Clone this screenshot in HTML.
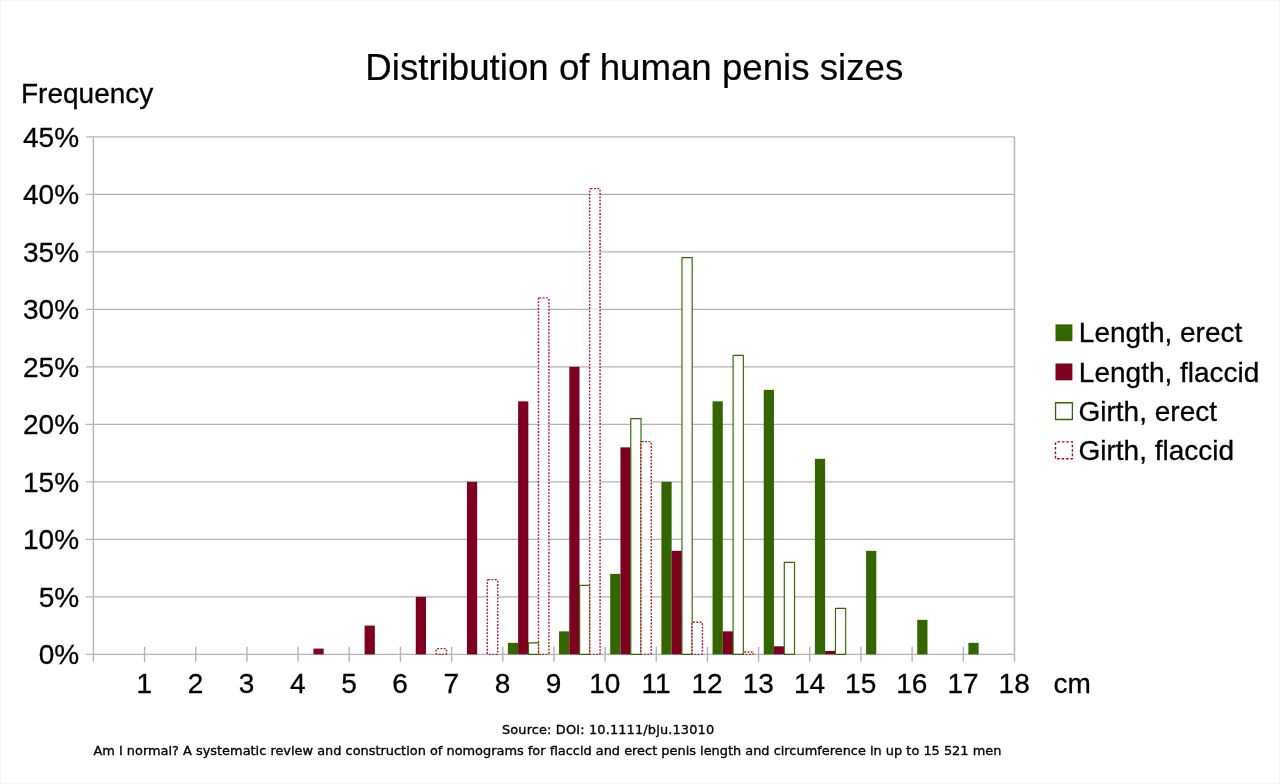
<!DOCTYPE html>
<html lang="en"><head><meta charset="utf-8"><title>Distribution of human penis sizes</title>
<style>html,body{margin:0;padding:0;background:#fff;}svg{display:block;}text{font-family:"Liberation Sans",sans-serif;fill:#000;}.ax{font-size:28px;stroke:#000;stroke-width:0.3px;}.t{font-size:36.66px;stroke:#000;stroke-width:0.2px;}.s{font-family:"DejaVu Sans","Liberation Sans",sans-serif;font-size:12.91px;stroke:#000;stroke-width:0.35px;}</style></head><body>
<svg width="1280" height="784" viewBox="0 0 1280 784">
<rect x="0" y="0" width="1280" height="784" fill="#fff"/>
<rect x="0.5" y="0.5" width="1279" height="783" fill="none" stroke="#f6f6f6" stroke-width="1"/>
<g stroke="#b3b3b3" stroke-width="1.4" fill="none">
<line x1="85.9" y1="654.35" x2="1014.46" y2="654.35"/>
<line x1="85.9" y1="596.85" x2="1014.46" y2="596.85"/>
<line x1="85.9" y1="539.35" x2="1014.46" y2="539.35"/>
<line x1="85.9" y1="481.85" x2="1014.46" y2="481.85"/>
<line x1="85.9" y1="424.35" x2="1014.46" y2="424.35"/>
<line x1="85.9" y1="366.85" x2="1014.46" y2="366.85"/>
<line x1="85.9" y1="309.35" x2="1014.46" y2="309.35"/>
<line x1="85.9" y1="251.85" x2="1014.46" y2="251.85"/>
<line x1="85.9" y1="194.35" x2="1014.46" y2="194.35"/>
<line x1="85.9" y1="136.85" x2="1014.46" y2="136.85"/>
<line x1="93.4" y1="136.85" x2="93.4" y2="661.85"/>
<line x1="1014.46" y1="136.85" x2="1014.46" y2="661.85"/>
<line x1="144.57" y1="646.85" x2="144.57" y2="661.85"/>
<line x1="195.74" y1="646.85" x2="195.74" y2="661.85"/>
<line x1="246.91" y1="646.85" x2="246.91" y2="661.85"/>
<line x1="298.08" y1="646.85" x2="298.08" y2="661.85"/>
<line x1="349.25" y1="646.85" x2="349.25" y2="661.85"/>
<line x1="400.42" y1="646.85" x2="400.42" y2="661.85"/>
<line x1="451.59" y1="646.85" x2="451.59" y2="661.85"/>
<line x1="502.76" y1="646.85" x2="502.76" y2="661.85"/>
<line x1="553.93" y1="646.85" x2="553.93" y2="661.85"/>
<line x1="605.1" y1="646.85" x2="605.1" y2="661.85"/>
<line x1="656.27" y1="646.85" x2="656.27" y2="661.85"/>
<line x1="707.44" y1="646.85" x2="707.44" y2="661.85"/>
<line x1="758.61" y1="646.85" x2="758.61" y2="661.85"/>
<line x1="809.78" y1="646.85" x2="809.78" y2="661.85"/>
<line x1="860.95" y1="646.85" x2="860.95" y2="661.85"/>
<line x1="912.12" y1="646.85" x2="912.12" y2="661.85"/>
<line x1="963.29" y1="646.85" x2="963.29" y2="661.85"/>
</g>
<g id="bars">
<rect x="313.43" y="648.6" width="10.23" height="5.75" fill="#7e0021"/>
<rect x="364.6" y="625.6" width="10.23" height="28.75" fill="#7e0021"/>
<rect x="415.77" y="596.85" width="10.23" height="57.5" fill="#7e0021"/>
<rect x="436.14" y="648.6" width="10.43" height="5.75" rx="1" ry="1" fill="#fff" fill-opacity="0.7" stroke="#b01a25" stroke-width="1.45" stroke-dasharray="1.85 1.48" stroke-linejoin="round"/>
<rect x="466.94" y="481.85" width="10.23" height="172.5" fill="#7e0021"/>
<rect x="487.31" y="579.6" width="10.43" height="74.75" rx="1" ry="1" fill="#fff" fill-opacity="0.7" stroke="#b01a25" stroke-width="1.45" stroke-dasharray="1.85 1.48" stroke-linejoin="round"/>
<rect x="507.88" y="642.85" width="10.23" height="11.5" fill="#336600"/>
<rect x="518.11" y="401.35" width="10.23" height="253" fill="#7e0021"/>
<rect x="528.45" y="642.85" width="10.23" height="11.5" fill="#fff" stroke="#336600" stroke-width="1.15" stroke-linejoin="round"/>
<rect x="538.48" y="297.85" width="10.43" height="356.5" rx="1" ry="1" fill="#fff" fill-opacity="0.7" stroke="#b01a25" stroke-width="1.45" stroke-dasharray="1.85 1.48" stroke-linejoin="round"/>
<rect x="559.05" y="631.35" width="10.23" height="23" fill="#336600"/>
<rect x="569.28" y="366.85" width="10.23" height="287.5" fill="#7e0021"/>
<rect x="579.62" y="585.35" width="10.23" height="69" fill="#fff" stroke="#336600" stroke-width="1.15" stroke-linejoin="round"/>
<rect x="589.65" y="188.6" width="10.43" height="465.75" rx="1" ry="1" fill="#fff" fill-opacity="0.7" stroke="#b01a25" stroke-width="1.45" stroke-dasharray="1.85 1.48" stroke-linejoin="round"/>
<rect x="610.22" y="573.85" width="10.23" height="80.5" fill="#336600"/>
<rect x="620.45" y="447.35" width="10.23" height="207" fill="#7e0021"/>
<rect x="630.78" y="418.6" width="10.23" height="235.75" fill="#fff" stroke="#336600" stroke-width="1.15" stroke-linejoin="round"/>
<rect x="640.82" y="441.6" width="10.43" height="212.75" rx="1" ry="1" fill="#fff" fill-opacity="0.7" stroke="#b01a25" stroke-width="1.45" stroke-dasharray="1.85 1.48" stroke-linejoin="round"/>
<rect x="661.39" y="481.85" width="10.23" height="172.5" fill="#336600"/>
<rect x="671.62" y="550.85" width="10.23" height="103.5" fill="#7e0021"/>
<rect x="681.95" y="257.6" width="10.23" height="396.75" fill="#fff" stroke="#336600" stroke-width="1.15" stroke-linejoin="round"/>
<rect x="691.99" y="622.15" width="10.43" height="32.2" rx="1" ry="1" fill="#fff" fill-opacity="0.7" stroke="#b01a25" stroke-width="1.45" stroke-dasharray="1.85 1.48" stroke-linejoin="round"/>
<rect x="712.56" y="401.35" width="10.23" height="253" fill="#336600"/>
<rect x="722.79" y="631.35" width="10.23" height="23" fill="#7e0021"/>
<rect x="733.12" y="355.35" width="10.23" height="299" fill="#fff" stroke="#336600" stroke-width="1.15" stroke-linejoin="round"/>
<rect x="743.16" y="652.05" width="10.43" height="2.3" rx="1" ry="1" fill="#fff" fill-opacity="0.7" stroke="#b01a25" stroke-width="1.45" stroke-dasharray="1.85 1.48" stroke-linejoin="round"/>
<rect x="763.73" y="389.85" width="10.23" height="264.5" fill="#336600"/>
<rect x="773.96" y="646.3" width="10.23" height="8.05" fill="#7e0021"/>
<rect x="784.29" y="562.35" width="10.23" height="92" fill="#fff" stroke="#336600" stroke-width="1.15" stroke-linejoin="round"/>
<rect x="814.9" y="458.85" width="10.23" height="195.5" fill="#336600"/>
<rect x="825.13" y="650.9" width="10.23" height="3.45" fill="#7e0021"/>
<rect x="835.46" y="608.35" width="10.23" height="46" fill="#fff" stroke="#336600" stroke-width="1.15" stroke-linejoin="round"/>
<rect x="866.07" y="550.85" width="10.23" height="103.5" fill="#336600"/>
<rect x="917.24" y="619.85" width="10.23" height="34.5" fill="#336600"/>
<rect x="968.41" y="642.85" width="10.23" height="11.5" fill="#336600"/>
</g>
<text class="t" x="634.3" y="80" text-anchor="middle">Distribution of human penis sizes</text>
<text class="ax" x="21" y="103">Frequency</text>
<text class="ax" x="79.1" y="664.25" text-anchor="end">0%</text>
<text class="ax" x="79.1" y="606.75" text-anchor="end">5%</text>
<text class="ax" x="79.1" y="549.25" text-anchor="end">10%</text>
<text class="ax" x="79.1" y="491.75" text-anchor="end">15%</text>
<text class="ax" x="79.1" y="434.25" text-anchor="end">20%</text>
<text class="ax" x="79.1" y="376.75" text-anchor="end">25%</text>
<text class="ax" x="79.1" y="319.25" text-anchor="end">30%</text>
<text class="ax" x="79.1" y="261.75" text-anchor="end">35%</text>
<text class="ax" x="79.1" y="204.25" text-anchor="end">40%</text>
<text class="ax" x="79.1" y="146.75" text-anchor="end">45%</text>
<text class="ax" x="144.27" y="693" text-anchor="middle">1</text>
<text class="ax" x="195.44" y="693" text-anchor="middle">2</text>
<text class="ax" x="246.61" y="693" text-anchor="middle">3</text>
<text class="ax" x="297.78" y="693" text-anchor="middle">4</text>
<text class="ax" x="348.95" y="693" text-anchor="middle">5</text>
<text class="ax" x="400.12" y="693" text-anchor="middle">6</text>
<text class="ax" x="451.29" y="693" text-anchor="middle">7</text>
<text class="ax" x="502.46" y="693" text-anchor="middle">8</text>
<text class="ax" x="553.63" y="693" text-anchor="middle">9</text>
<text class="ax" x="604.8" y="693" text-anchor="middle">10</text>
<text class="ax" x="655.97" y="693" text-anchor="middle">11</text>
<text class="ax" x="707.14" y="693" text-anchor="middle">12</text>
<text class="ax" x="758.31" y="693" text-anchor="middle">13</text>
<text class="ax" x="809.48" y="693" text-anchor="middle">14</text>
<text class="ax" x="860.65" y="693" text-anchor="middle">15</text>
<text class="ax" x="911.82" y="693" text-anchor="middle">16</text>
<text class="ax" x="962.99" y="693" text-anchor="middle">17</text>
<text class="ax" x="1014.16" y="693" text-anchor="middle">18</text>
<text class="ax" x="1053.4" y="693">cm</text>
<rect x="1055.5" y="324.37" width="16.9" height="16.8" fill="#336600"/>
<text class="ax" x="1078.85" y="342">Length, erect</text>
<rect x="1055.5" y="363.49" width="16.9" height="16.8" fill="#7e0021"/>
<text class="ax" x="1078.85" y="382">Length, flaccid</text>
<rect x="1055.55" y="402.76" width="16.85" height="16.75" fill="#fff" stroke="#336600" stroke-width="1.3" stroke-linejoin="round"/>
<text class="ax" x="1078.5" y="421">Girth, erect</text>
<rect x="1055.5" y="441.88" width="16.9" height="16.8" fill="#fff" stroke="#a00810" stroke-width="1.4" stroke-dasharray="2.6 1.85" stroke-dashoffset="-1.9" stroke-linejoin="round"/>
<text class="ax" x="1078.5" y="460">Girth, flaccid</text>
<text class="s" x="608.1" y="734.1" text-anchor="middle" style="letter-spacing:0.145px">Source: DOI: 10.1111/bju.13010</text>
<text class="s" x="547.4" y="754.6" text-anchor="middle">Am I normal? A systematic review and construction of nomograms for flaccid and erect penis length and circumference in up to 15 521 men</text>
</svg></body></html>
